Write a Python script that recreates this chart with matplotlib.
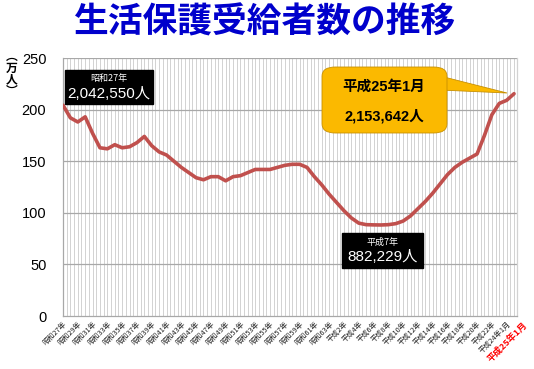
import numpy as np
import matplotlib
matplotlib.use('Agg')
import matplotlib.pyplot as plt
import matplotlib.transforms as mtransforms
from matplotlib.patches import FancyBboxPatch, Polygon

plt.rcParams['font.family'] = ['Noto Sans CJK JP', 'DejaVu Sans']
latin = ['Liberation Sans', 'Noto Sans CJK JP']

# annual figures 昭和27年(1952) .. 平成24年(2012), then 平成25年1月
years = list(range(1952, 2013)) + [2013]
recipients = [204.3, 192, 188, 193, 177, 163, 162, 166, 163, 164,
              168, 174, 165, 159, 156, 150, 144, 139, 134, 132,
              135, 135, 131, 135, 136, 139, 142, 142, 142, 144,
              146, 147, 147, 144, 135, 127, 118, 110, 102, 95,
              90, 88.5, 88.3, 88.2, 88.5, 89.5, 92, 97, 104, 111,
              119, 128, 137, 144, 149, 153, 157, 175, 195, 206,
              209, 215.4]

tick_years = list(range(1952, 2013, 2)) + [2013]
tick_labels = [f'昭和{y - 1925}年' for y in range(1952, 1989, 2)] + \
              [f'平成{y - 1988}年' for y in range(1990, 2011, 2)] + \
              ['平成24年1月', '平成25年1月']

W, H = 534, 369
fig = plt.figure(figsize=(W / 100, H / 100), dpi=100)
ax = fig.add_axes([63 / W, 1 - 316 / H, (517 - 63) / W, (316 - 58) / H])

# dense vertical grid (half-year) and horizontal grid every 50
for x in np.arange(1952, 2013.6, 0.5):
    ax.axvline(x, color='#d2d2d2', lw=0.7, zorder=0)
for y in range(50, 251, 50):
    ax.axhline(y, color='#a8a8a8', lw=0.9, zorder=1)

ax.plot(years, recipients, color='#c0504d', lw=2.6, solid_capstyle='round', zorder=3)

ax.set_xlim(1952, 2013.4)
ax.set_ylim(0, 250)
ax.set_yticks(range(0, 251, 50))
ax.tick_params(axis='y', length=0, labelsize=10.5, pad=12)
for t in ax.get_yticklabels():
    t.set_family(latin)
ax.set_xticks(tick_years)
ax.set_xticklabels(tick_labels, rotation=45, ha='right', rotation_mode='anchor',
                   fontsize=5.2, color='#222222')
ax.tick_params(axis='x', length=0, pad=3)
last = ax.get_xticklabels()[-1]
last.set_color('#ff0000')
last.set_fontsize(6.5)
last.set_fontweight('bold')
last.set_transform(last.get_transform() +
                   mtransforms.ScaledTranslation(8 / 100, 0, fig.dpi_scale_trans))
for s in ax.spines.values():
    s.set_color('#a8a8a8')
    s.set_linewidth(0.9)
ax.spines['top'].set_visible(False)
ax.spines['right'].set_color('#d2d2d2')

# title
fig.text(265 / W, 1 - 22 / H, '生活保護受給者数の推移', ha='center', va='center',
         fontsize=25, fontweight='bold', color='#0000cc')
# unit label (vertical writing)
fig.text(12 / W, 1 - 74 / H, '︵\n万\n人\n︶', ha='center', va='center',
         fontsize=8.5, fontweight='bold', linespacing=0.85)

def px(x, y):
    return x / W, 1 - y / H

# black label boxes
for (x0, y0, x1, y1), small, big in [((65, 70, 153, 104), '昭和27年', '2,042,550人'),
                                      ((342, 233, 423, 268), '平成7年', '882,229人')]:
    fig.patches.append(plt.Rectangle(px(x0, y1), (x1 - x0) / W, (y1 - y0) / H,
                                     transform=fig.transFigure, color='black', zorder=5))
    cx = (x0 + x1) / 2
    fig.text(*px(cx, y0 + 9), small, color='white', fontsize=6.5, ha='center', va='center', zorder=6)
    fig.text(*px(cx, y0 + 24), big, color='white', fontsize=11, ha='center', va='center', zorder=6,
             family=latin)

# orange callout
orange = '#fbb900'
fig.patches.append(Polygon([px(440, 76), px(440, 90), px(507, 93)], closed=True,
                           transform=fig.transFigure, facecolor=orange,
                           edgecolor='#c89000', lw=0.6, zorder=5))
fig.patches.append(FancyBboxPatch(px(322, 133), (447 - 322) / W, (133 - 67) / H,
                                  boxstyle='round,pad=0.0,rounding_size=0.025',
                                  transform=fig.transFigure, facecolor=orange,
                                  edgecolor='#c89000', lw=0.6, zorder=5))
fig.text(*px(384, 87), '平成25年1月', fontsize=10.5, fontweight='bold', ha='center', va='center',
         zorder=7, family=latin)
fig.text(*px(384, 116), '2,153,642人', fontsize=10.5, fontweight='bold', ha='center', va='center',
         zorder=7, family=latin)

fig.savefig('out.png', dpi=100, facecolor='white')
